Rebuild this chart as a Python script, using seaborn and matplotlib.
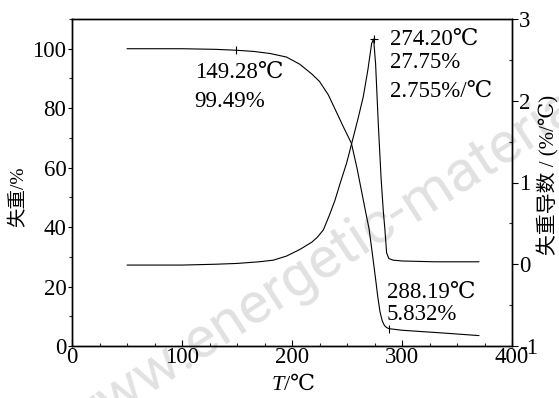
import numpy as np
import pandas as pd
import matplotlib
matplotlib.use("Agg")
import matplotlib.pyplot as plt
import seaborn as sns
from matplotlib.ticker import MultipleLocator

# ---- data ----
tg_T = [50, 100, 130, 149.28, 165, 180, 195, 207, 218, 225, 233, 240, 247, 254, 259, 263, 267, 270, 272,
        274.2, 276, 278, 280, 282, 284, 286, 288.19, 300, 320, 340, 370]
tg_v = [100, 100, 99.8, 99.49, 99.1, 98.4, 97.2, 94.8, 91.5, 89.0, 84.5, 79, 73.5, 68.2, 60, 52.5, 45, 39.5, 34,
        27.75, 22.5, 16.5, 11.5, 8.5, 6.9, 6.2, 5.832, 5.3, 4.8, 4.3, 3.5]
dtg_T = [50, 100, 130, 150, 170, 183, 195, 207, 218, 223, 228.5, 234, 239, 244, 249.7, 254.3, 260, 264.8, 269,
         272.4, 274.2, 276, 278.5, 281, 283, 284.5, 286, 288, 292, 300, 330, 370]
dtg_v = [-0.01, -0.01, 0.0, 0.01, 0.03, 0.05, 0.1, 0.18, 0.27, 0.33, 0.42, 0.6, 0.78, 1.0, 1.24, 1.48, 1.78,
         2.05, 2.38, 2.7, 2.755, 2.45, 1.7, 1.05, 0.65, 0.42, 0.14, 0.07, 0.05, 0.04, 0.03, 0.03]
mark_tg_T = [149.28, 288.19]
mark_tg_v = [99.49, 5.832]
mark_dtg_T = [274.2]
mark_dtg_v = [2.755]
ann1 = ["149.28℃", "99.49%"]
ann2 = ["274.20℃", "27.75%", "2.755%/℃"]
ann3 = ["288.19℃", "5.832%"]
wm_parts = ["www.energetic-", "materials.org.cn"]
xticks = [0, 100, 200, 300, 400]
yticks_left = [0, 20, 40, 60, 80, 100]
yticks_right = [-1, 0, 1, 2, 3]

sns.set_theme(style="white")
FAM = ["Liberation Serif", "DejaVu Serif", "Noto Sans CJK SC", "DejaVu Sans"]
plt.rcParams["font.family"] = FAM
plt.rcParams["axes.unicode_minus"] = False

W, H = 559, 398
fig = plt.figure(figsize=(W/100, H/100), dpi=100)
ax1 = fig.add_axes([72/W, 1-346/H, 440/W, 327/H])
ax2 = ax1.twinx()

# watermark (behind everything), anchored at the baseline where "m" starts
ax_, ay_ = 414/W, 1-222/H
for s, ha in zip(wm_parts, ["right", "left"]):
    fig.text(ax_, ay_, s, rotation=33, rotation_mode="anchor", ha=ha, va="baseline",
             fontsize=42, color="#e1e1e1", family=["Roboto", "DejaVu Sans"], zorder=-5)
ax1.patch.set_alpha(0)
ax2.patch.set_alpha(0)

lw = 0.8
df_tg = pd.DataFrame({"T": tg_T, "v": tg_v})
df_dtg = pd.DataFrame({"T": dtg_T, "v": dtg_v})
sns.lineplot(data=df_tg, x="T", y="v", ax=ax1, color="black", lw=lw, sort=False)
sns.lineplot(data=df_dtg, x="T", y="v", ax=ax2, color="black", lw=lw, sort=False)
ax1.plot(mark_tg_T, mark_tg_v, ls="none", marker="|", ms=6, mew=0.8, color="black")
ax2.plot(mark_dtg_T, mark_dtg_v, ls="none", marker="+", ms=6, mew=0.8, color="black")

ax1.set_xlim(0, 400)
ax1.set_ylim(0, 110)
ax2.set_ylim(-1, 3)
ax1.set_xticks(xticks)
ax1.set_yticks(yticks_left)
ax2.set_yticks(yticks_right)
ax1.xaxis.set_minor_locator(MultipleLocator(25))
ax1.yaxis.set_minor_locator(MultipleLocator(10))
ax2.yaxis.set_minor_locator(MultipleLocator(0.5))

fs_tick = 16.5
ax1.tick_params(axis="x", which="major", direction="in", length=4, width=0.8, labelsize=fs_tick, pad=1,
                colors="black", bottom=True)
ax1.tick_params(axis="x", which="minor", direction="in", length=2.5, width=0.8, bottom=True)
ax1.tick_params(axis="y", which="major", direction="out", length=3, width=0.8, labelsize=fs_tick, pad=1,
                colors="black", left=True)
ax1.tick_params(axis="y", which="minor", direction="out", length=2, width=0.8, left=True)
ax2.tick_params(axis="y", which="major", direction="out", length=4, width=0.8, labelsize=fs_tick, pad=1,
                colors="black", right=True)
ax2.tick_params(axis="y", which="minor", direction="in", length=2, width=0.8, right=True)
for ax in (ax1, ax2):
    for s in ax.spines.values():
        s.set_color("black")
        s.set_linewidth(1.0)

ax1.set_xlabel("")
ax1.set_ylabel("失重/%", fontsize=14, color="black")
ax1.yaxis.set_label_coords(-0.1, 0.456)
ax2.set_ylabel("失重导数 / (%/℃)", fontsize=15, color="black")
ax2.yaxis.set_label_coords(1.058, 0.523)
# x label: italic T + /℃
fig.text(284/W, 1-390/H, "T", fontsize=16, style="italic", ha="right", va="baseline", color="black")
fig.text(284/W, 1-390/H, "/℃", fontsize=16, ha="left", va="baseline", color="black")

fs_ann = 16.5
def put(lines, x, ys):
    for s, y in zip(lines, ys):
        ax1.text(x, y, s, fontsize=fs_ann, ha="left", va="baseline", color="black")

put(ann1, 111.5, [90.2, 80.5])
put(ann2, 289, [101.3, 93.6, 83.8])
put(ann3, 286, [16.2, 8.75])

fig.savefig("out.png", dpi=100)
